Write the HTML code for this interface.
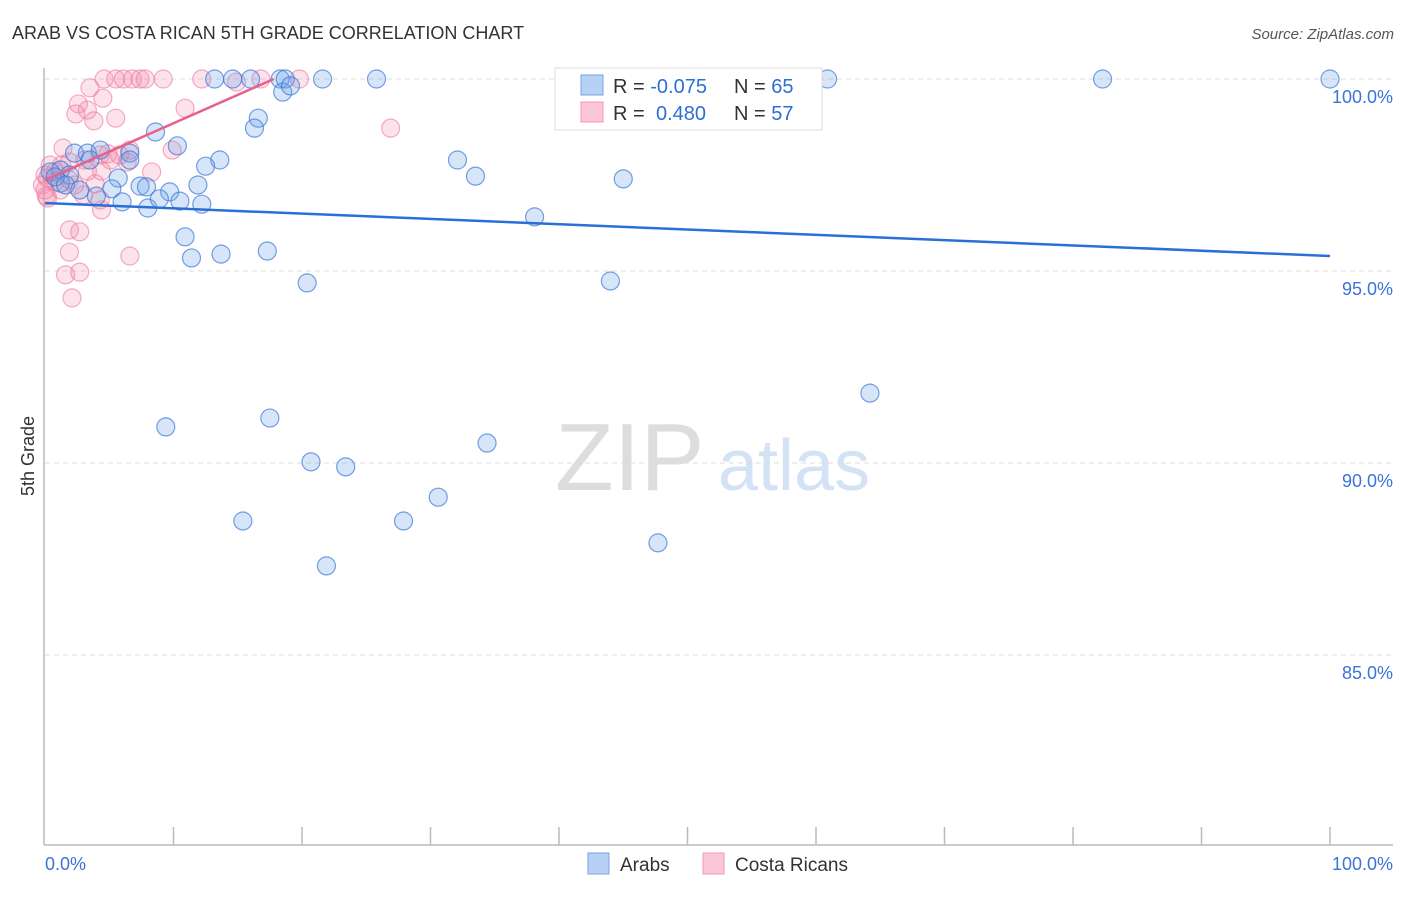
<!DOCTYPE html>
<html><head><meta charset="utf-8"><style>
body{margin:0;background:#fff;font-family:"Liberation Sans",sans-serif;}
svg text{font-family:"Liberation Sans",sans-serif;}
</style></head><body>
<svg id="chart" width="1406" height="892">
<text x="12" y="39" font-size="18" fill="#333">ARAB VS COSTA RICAN 5TH GRADE CORRELATION CHART</text>
<text x="1394" y="39" font-size="15" fill="#555" text-anchor="end" font-style="italic">Source: ZipAtlas.com</text>
<text x="34" y="456" font-size="18" fill="#333" text-anchor="middle" transform="rotate(-90 34 456)">5th Grade</text>
<g>
<text x="555" y="490" font-size="96" fill="#ddd" font-family="Liberation Serif,serif">ZIP</text>
<text x="718" y="490" font-size="72" fill="#d4e2f6">atlas</text>
</g>
<g id="grid"></g><g id="axes"></g><g id="marks"></g>
<g>
<rect x="555" y="68" width="267" height="62" fill="#fff" stroke="#ddd"/>
<rect x="581" y="75" width="22" height="20" fill="#b8d0f4" stroke="#7aa3e6"/>
<rect x="581" y="102" width="22" height="20" fill="#fbc6d6" stroke="#f09ab6"/>
<text x="613" y="93" font-size="20" fill="#333">R = <tspan fill="#2d6ed8">-0.075</tspan></text>
<text x="734" y="93" font-size="20" fill="#333">N = <tspan fill="#2d6ed8">65</tspan></text>
<text x="613" y="120" font-size="20" fill="#333">R = <tspan fill="#2d6ed8" x="656">0.480</tspan></text>
<text x="734" y="120" font-size="20" fill="#333">N = <tspan fill="#2d6ed8">57</tspan></text>
</g>
<g>
<rect x="588" y="853" width="21" height="21" fill="#b8d0f4" stroke="#7aa3e6"/>
<text x="620" y="871" font-size="19" fill="#333">Arabs</text>
<rect x="703" y="853" width="21" height="21" fill="#fbc6d6" stroke="#f09ab6"/>
<text x="735" y="871" font-size="19" fill="#333">Costa Ricans</text>
</g>
</svg>
<script>
const yTicks=[100,95,90,85];
const yTickLabels=["100.0%","95.0%","90.0%","85.0%"];
const xTickLabels=["0.0%","100.0%"];
const arabX=[13.2,14.6,16.0,18.3,18.7,21.6,25.8,47.1,60.9,82.3,100,18.5,19.1,16.6,16.3,8.6,10.3,2.3,3.3,4.3,6.6,13.6,12.5,32.1,33.5,45.0,1.2,0.4,1.9,5.7,7.4,5.2,7.9,9.7,11.9,1.2,4.0,6.0,8.0,8.9,10.5,12.2,38.1,10.9,11.4,13.7,17.3,20.4,44.0,64.2,9.4,17.5,34.4,20.7,23.4,30.6,15.4,27.9,47.7,21.9,0.8,1.6,2.7,3.5,6.6];
const arabY=[100,100,100,100,100,100,100,100,100,100,100,99.66,99.82,98.98,98.72,98.62,98.26,98.07,98.07,98.15,98.07,97.89,97.73,97.89,97.47,97.4,97.63,97.58,97.5,97.42,97.21,97.14,97.19,97.06,97.24,97.29,96.95,96.8,96.64,96.88,96.82,96.74,96.41,95.89,95.34,95.44,95.52,94.69,94.74,91.82,90.94,91.17,90.52,90.03,89.9,89.11,88.49,88.49,87.92,87.32,97.45,97.24,97.11,97.89,97.89];
const costaX=[4.6,5.5,6.1,6.8,7.4,7.8,9.2,12.2,14.9,16.8,19.8,3.5,4.5,2.6,3.3,10.9,2.4,3.8,5.5,26.9,1.4,4.9,6.4,9.9,8.3,4.4,0.4,0,-0.2,0.1,1.9,3.0,4.4,6.6,1.9,2.7,1.9,1.6,2.7,2.1,3.9,1.2,5.8,0.8,0.2,3.1,4.3,1.3,0.8,0.2,2.3,3.3,1.9,4.3,0,6.6,5.1];
const costaY=[100,100,100,100,100,100,100,100,99.92,100,100,99.77,99.5,99.35,99.19,99.24,99.09,98.91,98.98,98.72,98.2,98.05,97.84,98.15,97.58,97.6,97.76,97.5,97.24,96.95,97.37,96.98,96.59,95.39,96.07,96.02,95.49,94.9,94.97,94.3,97.27,97.11,98.02,97.32,96.9,97.89,98.02,97.76,97.58,97.42,97.24,97.6,97.84,96.85,97.11,98.15,97.89];
const arabTrend=[96.77,95.39];
const costaTrend=[97.37,100];
const costaTrendXEnd=17.8;

const X0=45,X1=1330,Y100=79,PXPER=38.4;
const xs=v=>X0+(X1-X0)*v/100;
const ys=v=>Y100+(100-v)*PXPER;
const NS="http://www.w3.org/2000/svg";
function mk(tag,attrs,parent){const e=document.createElementNS(NS,tag);for(const k in attrs)e.setAttribute(k,attrs[k]);parent.appendChild(e);return e;}
const grid=document.getElementById('grid'),axes=document.getElementById('axes'),marks=document.getElementById('marks');
yTicks.forEach((t,i)=>{
  const l=mk('line',{x1:45,x2:1393,y1:ys(t),y2:ys(t),stroke:'#ddd','stroke-dasharray':'5,4'},grid);
  
  
  const tx=mk('text',{x:1393,y:ys(t)+24,'font-size':18,fill:'#3b73d8','text-anchor':'end'},axes);
  tx.textContent=yTickLabels[i];
  
  
});
const ax=mk('line',{x1:44,x2:44,y1:68,y2:845,stroke:'#bbb','stroke-width':1.5},axes);


const bx=mk('line',{x1:44,x2:1393,y1:845,y2:845,stroke:'#bbb','stroke-width':1.5},axes);


for(let i=1;i<=10;i++){
  const tk=mk('line',{x1:xs(i*10),x2:xs(i*10),y1:827,y2:845,stroke:'#bbb','stroke-width':1.5},axes);
  
  
}
const xl0=mk('text',{x:45,y:870,'font-size':18,fill:'#3b73d8'},axes);xl0.textContent=xTickLabels[0];


const xl1=mk('text',{x:1393,y:870,'font-size':18,fill:'#3b73d8','text-anchor':'end'},axes);xl1.textContent=xTickLabels[1];



costaX.forEach((x,i)=>{
  const c=mk('circle',{cx:xs(x),cy:ys(costaY[i]),r:9,fill:'rgba(245,140,170,0.25)',stroke:'rgba(236,120,155,0.6)','stroke-width':1.2},marks);
  
  
});
arabX.forEach((x,i)=>{
  const c=mk('circle',{cx:xs(x),cy:ys(arabY[i]),r:9,fill:'rgba(110,160,230,0.28)',stroke:'rgba(60,120,215,0.7)','stroke-width':1.2},marks);
  
  
});
const bl=mk('line',{x1:xs(0),y1:ys(arabTrend[0]),x2:xs(100),y2:ys(arabTrend[1]),stroke:'#2a6fd6','stroke-width':2.5},marks);


const pl=mk('line',{x1:xs(0),y1:ys(costaTrend[0]),x2:xs(costaTrendXEnd),y2:ys(costaTrend[1]),stroke:'#e8608c','stroke-width':2.5},marks);


</script>
</body></html>
